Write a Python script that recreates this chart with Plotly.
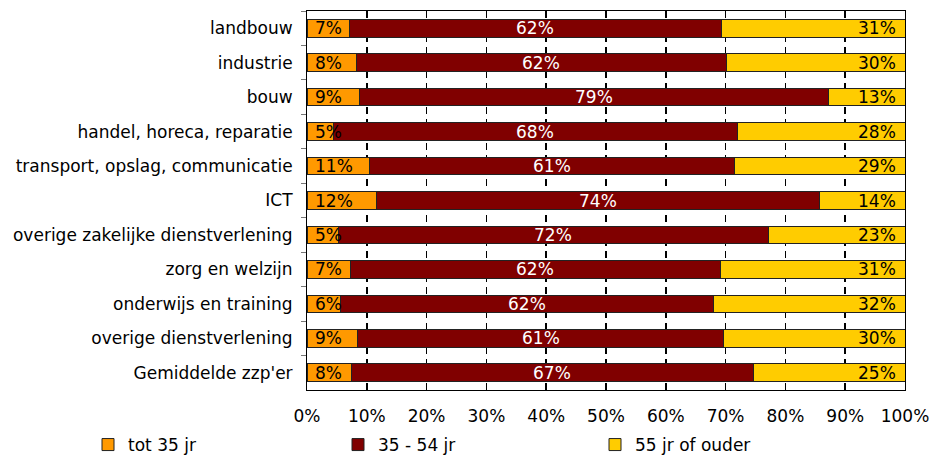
import plotly.graph_objects as go

categories = ["landbouw", "industrie", "bouw", "handel, horeca, reparatie",
              "transport, opslag, communicatie", "ICT",
              "overige zakelijke dienstverlening", "zorg en welzijn",
              "onderwijs en training", "overige dienstverlening",
              "Gemiddelde zzp'er"]
# segment shares (%) as drawn
tot35 = [7.1, 8.2, 8.7, 4.4, 10.4, 11.7, 5.2, 7.2, 5.6, 8.5, 7.4]
mid3554 = [62.2, 61.9, 78.5, 67.6, 61.1, 74.0, 71.9, 62.0, 62.3, 61.2, 67.2]
old55 = [30.7, 29.9, 12.8, 28.0, 28.5, 14.3, 22.9, 30.8, 32.1, 30.3, 25.4]
# printed labels
lab_tot35 = ["7%", "8%", "9%", "5%", "11%", "12%", "5%", "7%", "6%", "9%", "8%"]
lab_mid = ["62%", "62%", "79%", "68%", "61%", "74%", "72%", "62%", "62%", "61%", "67%"]
lab_old = ["31%", "30%", "13%", "28%", "29%", "14%", "23%", "31%", "32%", "30%", "25%"]
series_names = ["tot 35 jr", "35 - 54 jr", "55 jr of ouder"]
colors = ["#FF9900", "#800000", "#FFCC00"]
xticks = [0, 10, 20, 30, 40, 50, 60, 70, 80, 90, 100]
xtick_labels = [f"{v}%" for v in xticks]

FONT = "Verdana, DejaVu Sans, sans-serif"
FS = 17

fig = go.Figure()
legends = ["legend", "legend2", "legend3"]
for name, vals, col, lg in zip(series_names, [tot35, mid3554, old55], colors, legends):
    fig.add_trace(go.Bar(
        y=categories, x=vals, name=name, orientation="h",
        marker=dict(color=col, line=dict(color="#222222", width=1)),
        legend=lg, showlegend=True, hoverinfo="skip"))

annotations = []
for cat, a, b, l1, l2, l3 in zip(categories, tot35, mid3554, lab_tot35, lab_mid, lab_old):
    annotations.append(dict(x=0, y=cat, xref="x", yref="y", text=l1, showarrow=False,
                            xanchor="left", xshift=6,
                            font=dict(family=FONT, size=FS, color="black")))
    annotations.append(dict(x=a + b / 2, y=cat, xref="x", yref="y", text=l2, showarrow=False,
                            xanchor="center",
                            font=dict(family=FONT, size=FS, color="white")))
    annotations.append(dict(x=100, y=cat, xref="x", yref="y", text=l3, showarrow=False,
                            xanchor="right", xshift=-7,
                            font=dict(family=FONT, size=FS, color="black")))

L, R, T, B = 307, 32, 11, 65
W, H = 937, 455
leg_y = 1 - 445 / H
legend_common = dict(orientation="h", xref="container", yref="container",
                     yanchor="middle", xanchor="left", y=leg_y,
                     font=dict(family=FONT, size=FS, color="black"),
                     bgcolor="rgba(0,0,0,0)", itemclick=False)
fig.update_layout(
    width=W, height=H, showlegend=True,
    margin=dict(l=L, r=R, t=T, b=B, autoexpand=False),
    paper_bgcolor="white", plot_bgcolor="white",
    barmode="stack", bargap=0.49,
    font=dict(family=FONT, size=FS, color="black"),
    annotations=annotations,
    legend=dict(x=88 / W, **legend_common),
    legend2=dict(x=338 / W, **legend_common),
    legend3=dict(x=595 / W, **legend_common),
    xaxis=dict(range=[0, 100], tickmode="array", tickvals=xticks, ticktext=xtick_labels,
               ticks="inside", ticklen=6, tickcolor="#000000", tickwidth=1.5,
               showline=True, linecolor="black", linewidth=1, mirror="allticks",
               showgrid=True, gridcolor="#000000", gridwidth=1.5, griddash="7px,5px",
               zeroline=False, ticklabelstandoff=11, fixedrange=True),
    yaxis=dict(autorange="reversed", type="category", ticks="outside",
               tickson="boundaries", ticklen=5, tickcolor="#777777",
               showline=True, linecolor="black", linewidth=1, mirror=True,
               showgrid=False, ticklabelstandoff=10, fixedrange=True),
)

fig.write_html("out.html", config={"displayModeBar": False, "staticPlot": True})
with open("out.html", "r", encoding="utf-8") as f:
    html = f.read()
html = html.replace("<head>", "<head><style>html,body{margin:0;padding:0;overflow:hidden}</style>", 1)
with open("out.html", "w", encoding="utf-8") as f:
    f.write(html)
